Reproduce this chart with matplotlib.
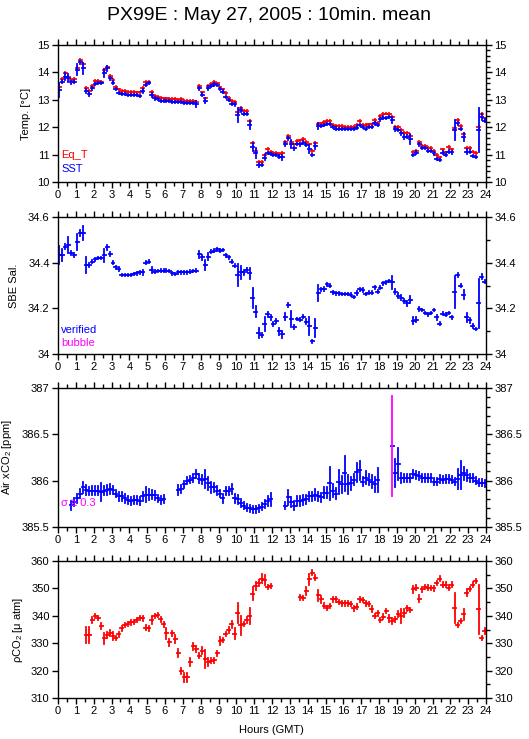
import numpy as np
import matplotlib
matplotlib.use('Agg')
import matplotlib.pyplot as plt
from matplotlib.ticker import MultipleLocator

plt.rcParams['font.family'] = ['Liberation Sans', 'DejaVu Sans']
plt.rcParams['mathtext.default'] = 'regular'

nan = np.nan

# 10 minute means, one value per 10 min slot (6 per hour)
hours = np.arange(144) / 6 + 1 / 12

sst = [13.36, 13.66, 13.84, 13.80, 13.64, 13.66,
       14.09, 14.37, 14.15, 13.32, 13.20, 13.42,
       13.58, 13.60, 13.60, 13.97, 14.15, 13.78,
       13.62, 13.38, 13.24, 13.21, 13.20, 13.18,
       13.18, 13.18, 13.17, 13.15, 13.33, 13.55,
       13.60, 13.18, 13.05, 13.02, 12.97, 12.97,
       12.95, 12.95, 12.93, 12.93, 12.92, 12.93,
       12.88, 12.88, 12.87, 12.87, 12.85, 13.42,
       13.18, 12.97, 13.42, 13.50, 13.56, 13.54,
       13.38, 13.30, 13.11, 12.99, 12.85, 12.83,
       12.44, 12.63, 12.48, 12.48, 12.08, 11.29,
       11.05, 10.62, 10.62, 10.89, 11.05, 11.02,
       10.99, 10.99, 10.92, 10.90, 11.39, 11.59,
       11.39, 11.23, 11.39, 11.37, 11.44, 11.35,
       11.20, 10.99, 11.31, 12.04, 12.04, 12.08,
       12.12, 12.12, 12.00, 11.95, 11.93, 11.93,
       11.93, 11.93, 11.92, 11.92, 11.98, 12.08,
       12.00, 11.93, 12.00, 12.00, 12.14, 12.08,
       12.29, 12.35, 12.35, 12.36, 12.26, 11.93,
       11.90, 11.78, 11.65, 11.65, 11.57, 10.99,
       11.07, 11.37, 11.23, 11.23, 11.14, 11.14,
       11.05, 10.84, 10.80, 11.07, 10.99, 11.11,
       11.08, 11.90, 12.14, 11.93, 11.65, 11.11,
       11.11, 10.95, 10.92, 11.90, 12.38, 12.24]
sst_err = [.27, .06, .12, .15, .05, .05,
           .20, .06, .20, .06, .05, .05,
           .04, .04, .04, .15, .10, .05,
           .05, .04, .04, .04, .04, .04,
           .04, .04, .04, .04, .08, .04,
           .04, .08, .04, .04, .04, .04,
           .04, .04, .04, .04, .04, .04,
           .04, .04, .04, .04, .10, .05,
           .05, .10, .08, .04, .04, .04,
           .04, .05, .04, .04, .05, .04,
           .25, .06, .04, .04, .15, .15,
           .18, .06, .04, .10, .04, .04,
           .04, .04, .05, .10, .08, .04,
           .15, .06, .04, .04, .04, .04,
           .15, .04, .10, .10, .05, .04,
           .04, .04, .04, .04, .04, .04,
           .04, .04, .04, .04, .05, .05,
           .04, .04, .04, .04, .05, .05,
           .05, .05, .04, .04, .10, .06,
           .05, .05, .08, .06, .20, .05,
           .05, .05, .04, .04, .04, .04,
           .05, .05, .05, .05, .04, .04,
           .05, .35, .05, .05, .15, .10,
           .06, .05, .04, .80, .10, .05]
eq_t = [13.48, 13.75, 13.97, 13.85, 13.72, 13.75,
        14.15, 14.45, 14.30, 13.44, 13.32, 13.50,
        13.68, 13.70, 13.66, 14.09, 14.20, 13.87,
        13.72, 13.48, 13.38, 13.32, 13.32, 13.30,
        13.28, 13.28, 13.27, 13.27, 13.42, 13.64,
        13.64, 13.30, 13.15, 13.10, 13.07, 13.05,
        13.05, 13.03, 13.03, 13.02, 13.00, 13.02,
        12.97, 12.96, 12.95, 12.95, 12.93, 13.50,
        13.27, 13.05, 13.50, 13.58, 13.64, 13.60,
        13.45, 13.38, 13.24, 13.08, 12.96, 12.93,
        12.54, 12.69, 12.59, 12.59, 12.23, 11.44,
        11.13, 10.72, 10.72, 11.00, 11.20, 11.11,
        11.07, 11.07, 11.02, 11.05, 11.47, 11.68,
        11.47, 11.37, 11.50, 11.52, 11.56, 11.47,
        11.37, 11.13, 11.44, 12.12, 12.14, 12.20,
        12.24, 12.24, 12.08, 12.04, 12.04, 12.04,
        12.02, 12.02, 12.00, 12.00, 12.08, 12.23,
        12.08, 12.08, 12.10, 12.10, 12.26, 12.17,
        12.41, 12.50, 12.50, 12.50, 12.38, 12.02,
        12.00, 11.90, 11.78, 11.78, 11.69, 11.11,
        11.14, 11.47, 11.31, 11.31, 11.23, 11.23,
        11.14, 10.99, 10.90, 11.19, 11.08, 11.27,
        11.19, 11.98, 12.26, 12.04, 11.75, 11.23,
        11.23, 11.11, 11.05, 12.00, 12.50, 12.32]

salinity = [34.433, 34.433, 34.470, 34.477, 34.443, 34.433,
            34.490, 34.530, 34.530, 34.390, 34.390, 34.404,
            34.414, 34.420, 34.420, 34.433, 34.467, 34.437,
            34.400, 34.380, 34.372, 34.346, 34.346, 34.346,
            34.346, 34.350, 34.353, 34.357, 34.357, 34.400,
            34.404, 34.368, 34.360, 34.363, 34.365, 34.365,
            34.365, 34.363, 34.353, 34.350, 34.357, 34.357,
            34.357, 34.357, 34.360, 34.363, 34.365, 34.436,
            34.423, 34.390, 34.426, 34.448, 34.452, 34.458,
            34.452, 34.455, 34.433, 34.423, 34.404, 34.387,
            34.346, 34.357, 34.357, 34.368, 34.353, 34.244,
            34.186, 34.092, 34.084, 34.130, 34.174, 34.160,
            34.132, 34.145, 34.100, 34.087, 34.164, 34.215,
            34.153, 34.118, 34.153, 34.150, 34.164, 34.142,
            34.124, 34.055, 34.113, 34.269, 34.283, 34.285,
            34.305, 34.300, 34.270, 34.265, 34.265, 34.263,
            34.263, 34.263, 34.259, 34.250, 34.266, 34.283,
            34.280, 34.263, 34.269, 34.269, 34.292, 34.273,
            34.290, 34.310, 34.314, 34.320, 34.314, 34.273,
            34.256, 34.247, 34.233, 34.222, 34.237, 34.145,
            34.150, 34.196, 34.193, 34.179, 34.174, 34.179,
            34.193, 34.161, 34.132, 34.176, 34.172, 34.179,
            34.160, 34.273, 34.346, 34.300, 34.259, 34.160,
            34.147, 34.124, 34.110, 34.222, 34.339, 34.317]
sal_err = [.040, .025, .012, .035, .010, .008,
           .035, .012, .032, .034, .008, .006,
           .006, .006, .006, .028, .010, .008,
           .008, .006, .010, .006, .006, .006,
           .006, .006, .006, .006, .012, .006,
           .006, .015, .006, .006, .006, .006,
           .006, .006, .006, .006, .006, .006,
           .006, .006, .006, .006, .006, .015,
           .010, .020, .015, .006, .006, .006,
           .006, .006, .006, .006, .006, .008,
           .047, .030, .010, .010, .025, .044,
           .025, .020, .010, .030, .010, .010,
           .010, .010, .015, .015, .015, .008,
           .035, .010, .006, .006, .008, .012,
           .040, .006, .040, .035, .008, .008,
           .006, .006, .006, .006, .006, .006,
           .006, .006, .006, .006, .008, .008,
           .008, .006, .006, .006, .008, .008,
           .006, .006, .006, .006, .028, .010,
           .010, .010, .010, .010, .015, .015,
           .010, .008, .006, .006, .006, .006,
           .006, .010, .006, .006, .006, .006,
           .008, .070, .010, .008, .020, .020,
           .010, .008, .006, .107, .010, .008]

air_xco2 = [nan, nan, nan, nan, 385.735, 385.77,
            385.81, 385.86, 385.93, 385.90, 385.89, 385.89,
            385.89, 385.89, 385.88, 385.89, 385.90, 385.91,
            385.90, 385.86, 385.83, 385.83, 385.81, 385.79,
            385.78, 385.79, 385.79, 385.78, 385.83, 385.85,
            385.85, 385.85, 385.84, 385.81, 385.79, 385.80,
            nan, nan, nan, nan, 385.90, 385.91,
            385.96, 386.00, 386.01, 386.03, 386.07, 386.02,
            386.01, 386.02, 385.97, 385.93, 385.93, 385.89,
            385.86, 385.81, 385.89, 385.89, 385.91, 385.81,
            385.80, 385.76, 385.73, 385.71, 385.70, 385.69,
            385.69, 385.70, 385.72, 385.75, 385.78, 385.80,
            nan, nan, nan, nan, 385.73, 385.82,
            385.77, 385.73, 385.78, 385.78, 385.79, 385.80,
            385.83, 385.83, 385.85, 385.83, 385.82, 385.87,
            385.87, 385.97, 385.89, 385.86, 385.99, 385.96,
            386.08, 385.96, 385.97, 386.01, 386.09, 386.11,
            385.99, 386.03, 386.01, 385.99, 385.96, 386.01,
            nan, nan, nan, nan, 386.37, 386.08,
            386.18, 386.03, 386.03, 386.03, 386.03, 386.07,
            386.06, 386.05, 386.03, 386.03, 386.03, 386.03,
            385.99, 385.99, 386.02, 386.01, 386.02, 386.02,
            386.01, 385.99, 386.02, 386.06, 386.08, 386.06,
            386.03, 386.03, 386.00, 385.98, 385.98, 385.97]
xco2_err = [0, 0, 0, 0, .05, .04,
            .05, .05, .06, .05, .04, .05,
            .05, .05, .10, .05, .05, .05,
            .04, .04, .05, .05, .05, .04,
            .04, .04, .04, .04, .05, .08,
            .06, .05, .05, .04, .04, .04,
            0, 0, 0, 0, .05, .04,
            .04, .04, .04, .04, .04, .05,
            .05, .10, .07, .06, .05, .05,
            .04, .05, .04, .04, .05, .05,
            .05, .04, .04, .04, .04, .04,
            .04, .04, .04, .04, .05, .07,
            0, 0, 0, 0, .04, .08,
            .05, .05, .05, .05, .05, .05,
            .05, .05, .06, .05, .05, .06,
            .06, .18, .07, .06, .13, .09,
            .19, .10, .07, .06, .10, .10,
            .05, .07, .06, .07, .08, .13,
            0, 0, 0, 0, .54, .15,
            .17, .05, .04, .04, .04, .04,
            .04, .04, .04, .04, .04, .04,
            .04, .04, .04, .04, .04, .04,
            .04, .04, .11, .15, .07, .06,
            .04, .04, .04, .04, .04, .04]

pco2 = [nan, nan, nan, nan, nan, nan,
        nan, nan, nan, 333.0, 333.0, 338.5,
        339.9, 339.3, 336.3, 331.8, 333.0, 333.8,
        332.6, 331.8, 333.2, 335.4, 336.6, 336.9,
        337.6, 337.8, 338.5, 339.1, 339.1, 335.7,
        335.4, 338.5, 340.0, 340.3, 338.7, 336.9,
        333.6, 330.3, 333.6, 331.4, 326.3, 319.9,
        317.5, 317.5, 323.0, 328.8, 327.9, 325.5,
        327.3, 324.3, 323.1, 323.6, 323.7, 326.3,
        330.9, 331.2, 333.4, 334.8, 336.9, 333.4,
        340.9, 336.6, 336.9, 338.5, 340.0, 348.1,
        350.8, 352.0, 353.6, 353.0, 350.6, 350.8,
        nan, nan, nan, nan, nan, nan,
        nan, nan, nan, 346.7, 346.6, 349.0,
        353.3, 355.8, 353.9, 347.5, 346.0, 343.7,
        342.9, 343.5, 346.0, 346.0, 345.1, 344.5,
        344.5, 344.5, 344.3, 342.7, 343.3, 346.0,
        345.7, 344.5, 344.3, 342.4, 340.0, 340.9,
        338.5, 339.7, 341.8, 339.1, 338.1, 338.7,
        340.6, 340.0, 341.1, 342.7, 342.1, 349.6,
        350.3, 346.3, 349.6, 350.6, 350.3, 350.2,
        350.0, 352.0, 353.6, 351.4, 351.4, 350.3,
        351.4, 342.9, 336.6, 338.1, 340.5, 348.5,
        349.7, 351.4, 352.6, 342.4, 331.8, 334.5]
pco2_err = [0, 0, 0, 0, 0, 0,
            0, 0, 0, 3.0, 3.0, 1.0,
            .8, .8, 1.0, 2.0, 1.0, 1.0,
            1.5, .8, 1.0, .8, .8, .8,
            .8, .8, .8, .8, 1.0, 1.0,
            .8, 1.5, .8, .8, .8, 1.0,
            2.0, 1.2, .8, 1.5, 1.5, 1.2,
            1.5, 1.5, 1.5, 1.2, 1.0, 1.0,
            1.2, 3.2, 1.5, 1.0, .8, .8,
            1.5, .8, .8, 1.0, 1.2, 2.0,
            3.6, 3.5, .8, 1.0, 3.0, 2.5,
            1.5, 1.2, 1.8, 1.8, .8, .8,
            0, 0, 0, 0, 0, 0,
            0, 0, 0, .8, .8, 1.5,
            2.0, .8, 1.0, 2.0, 1.2, .8,
            .8, .8, .8, .8, .8, .8,
            .8, .8, .8, .8, 1.0, .8,
            .8, .8, .8, 1.0, .8, .8,
            .8, 1.0, .8, 1.2, 1.0, .8,
            1.0, 2.5, 1.5, .8, .8, 1.2,
            .8, 1.2, .8, .8, .8, .8,
            .8, .8, .8, .8, .8, .8,
            .8, 5.5, .8, .8, 2.0, 1.2,
            .8, 1.0, .8, 8.9, .8, 1.0]

sigma_limit = 0.3

BLUE = '#0000ff'
RED = '#ff0000'
MAGENTA = '#ff00ff'
half = 1 / 12


def bars(ax, x, y, color, xerr=None, yerr=None):
    cont = ax.errorbar(x, y, xerr=xerr, yerr=yerr, fmt='none', ecolor=color,
                       elinewidth=1.3, capsize=0)
    for lc in cont.lines[2]:
        lc.set_capstyle('projecting')
    return cont


def style(ax, ylim, major, minor, ylabel, labelx):
    ax.set_xlim(0, 24)
    ax.set_ylim(*ylim)
    ax.xaxis.set_major_locator(MultipleLocator(1))
    ax.xaxis.set_minor_locator(MultipleLocator(0.5))
    ax.yaxis.set_major_locator(MultipleLocator(major))
    ax.yaxis.set_minor_locator(MultipleLocator(minor))
    ax.tick_params(which='both', direction='out', top=True, right=True,
                   labelright=True, labelsize=8, pad=2)
    ax.tick_params(which='major', length=4, width=1)
    ax.tick_params(which='minor', length=3, width=1, left=False)
    for s in ax.spines.values():
        s.set_linewidth(1.0)
    ax.set_ylabel(ylabel, fontsize=8)
    ax.yaxis.set_label_coords(labelx, 0.5)


fig = plt.figure(figsize=(5.29, 7.39), dpi=100)
W = 428 / 529
L = 58 / 529
ax1 = fig.add_axes([L, 1 - 182 / 739, W, 137 / 739])
ax2 = fig.add_axes([L, 1 - 354 / 739, W, 137 / 739])
ax3 = fig.add_axes([L, 1 - 527 / 739, W, 139 / 739])
ax4 = fig.add_axes([L, 1 - 698 / 739, W, 137 / 739])

# Temperature
bars(ax1, hours, eq_t, RED, xerr=half, yerr=0.03)
bars(ax1, hours, sst, BLUE, xerr=half, yerr=sst_err)
style(ax1, (10, 15), 1, 0.2, 'Temp. [°C]', -0.064)
ax1.text(0.008, 0.175, 'Eq_T', color=RED, fontsize=8, transform=ax1.transAxes)
ax1.text(0.008, 0.07, 'SST', color=BLUE, fontsize=8, transform=ax1.transAxes)

# Salinity
bars(ax2, hours, salinity, BLUE, xerr=half, yerr=sal_err)
style(ax2, (34, 34.6), 0.2, 0.1, 'SBE Sal.', -0.092)
ax2.set_yticks([34, 34.2, 34.4, 34.6])
ax2.set_yticklabels(['34', '34.2', '34.4', '34.6'])
ax2.text(0.008, 0.155, 'verified', color=BLUE, fontsize=8, transform=ax2.transAxes)
ax2.text(0.008, 0.06, 'bubble', color=MAGENTA, fontsize=8, transform=ax2.transAxes)

# Air xCO2, error bars with sigma >= 0.3 drawn in magenta
xco2 = np.array(air_xco2)
xco2_err = np.array(xco2_err)
flag = xco2_err >= sigma_limit
bars(ax3, hours, xco2, BLUE, xerr=half)
bars(ax3, hours[~flag], xco2[~flag], BLUE, yerr=xco2_err[~flag])
bars(ax3, hours[flag], xco2[flag], MAGENTA, yerr=xco2_err[flag])
style(ax3, (385.5, 387), 0.5, 0.1, 'Air xCO$_2$ [ppm]', -0.103)
ax3.set_yticks([385.5, 386, 386.5, 387])
ax3.set_yticklabels(['385.5', '386', '386.5', '387'])
ax3.text(0.008, 0.15, 'σ ≥ 0.3', color=MAGENTA, fontsize=8, transform=ax3.transAxes)

# pCO2
bars(ax4, hours, pco2, RED, xerr=half, yerr=pco2_err)
style(ax4, (310, 360), 10, 5, 'ρCO$_2$ [μ atm]', -0.076)

fig.text(0.508, 1 - 15 / 739, 'PX99E : May 27, 2005 : 10min. mean',
         ha='center', va='center', fontsize=14)
fig.text(0.514, 1 - 730 / 739, 'Hours (GMT)', ha='center', va='center', fontsize=8)

fig.savefig('out.png', dpi=100)
